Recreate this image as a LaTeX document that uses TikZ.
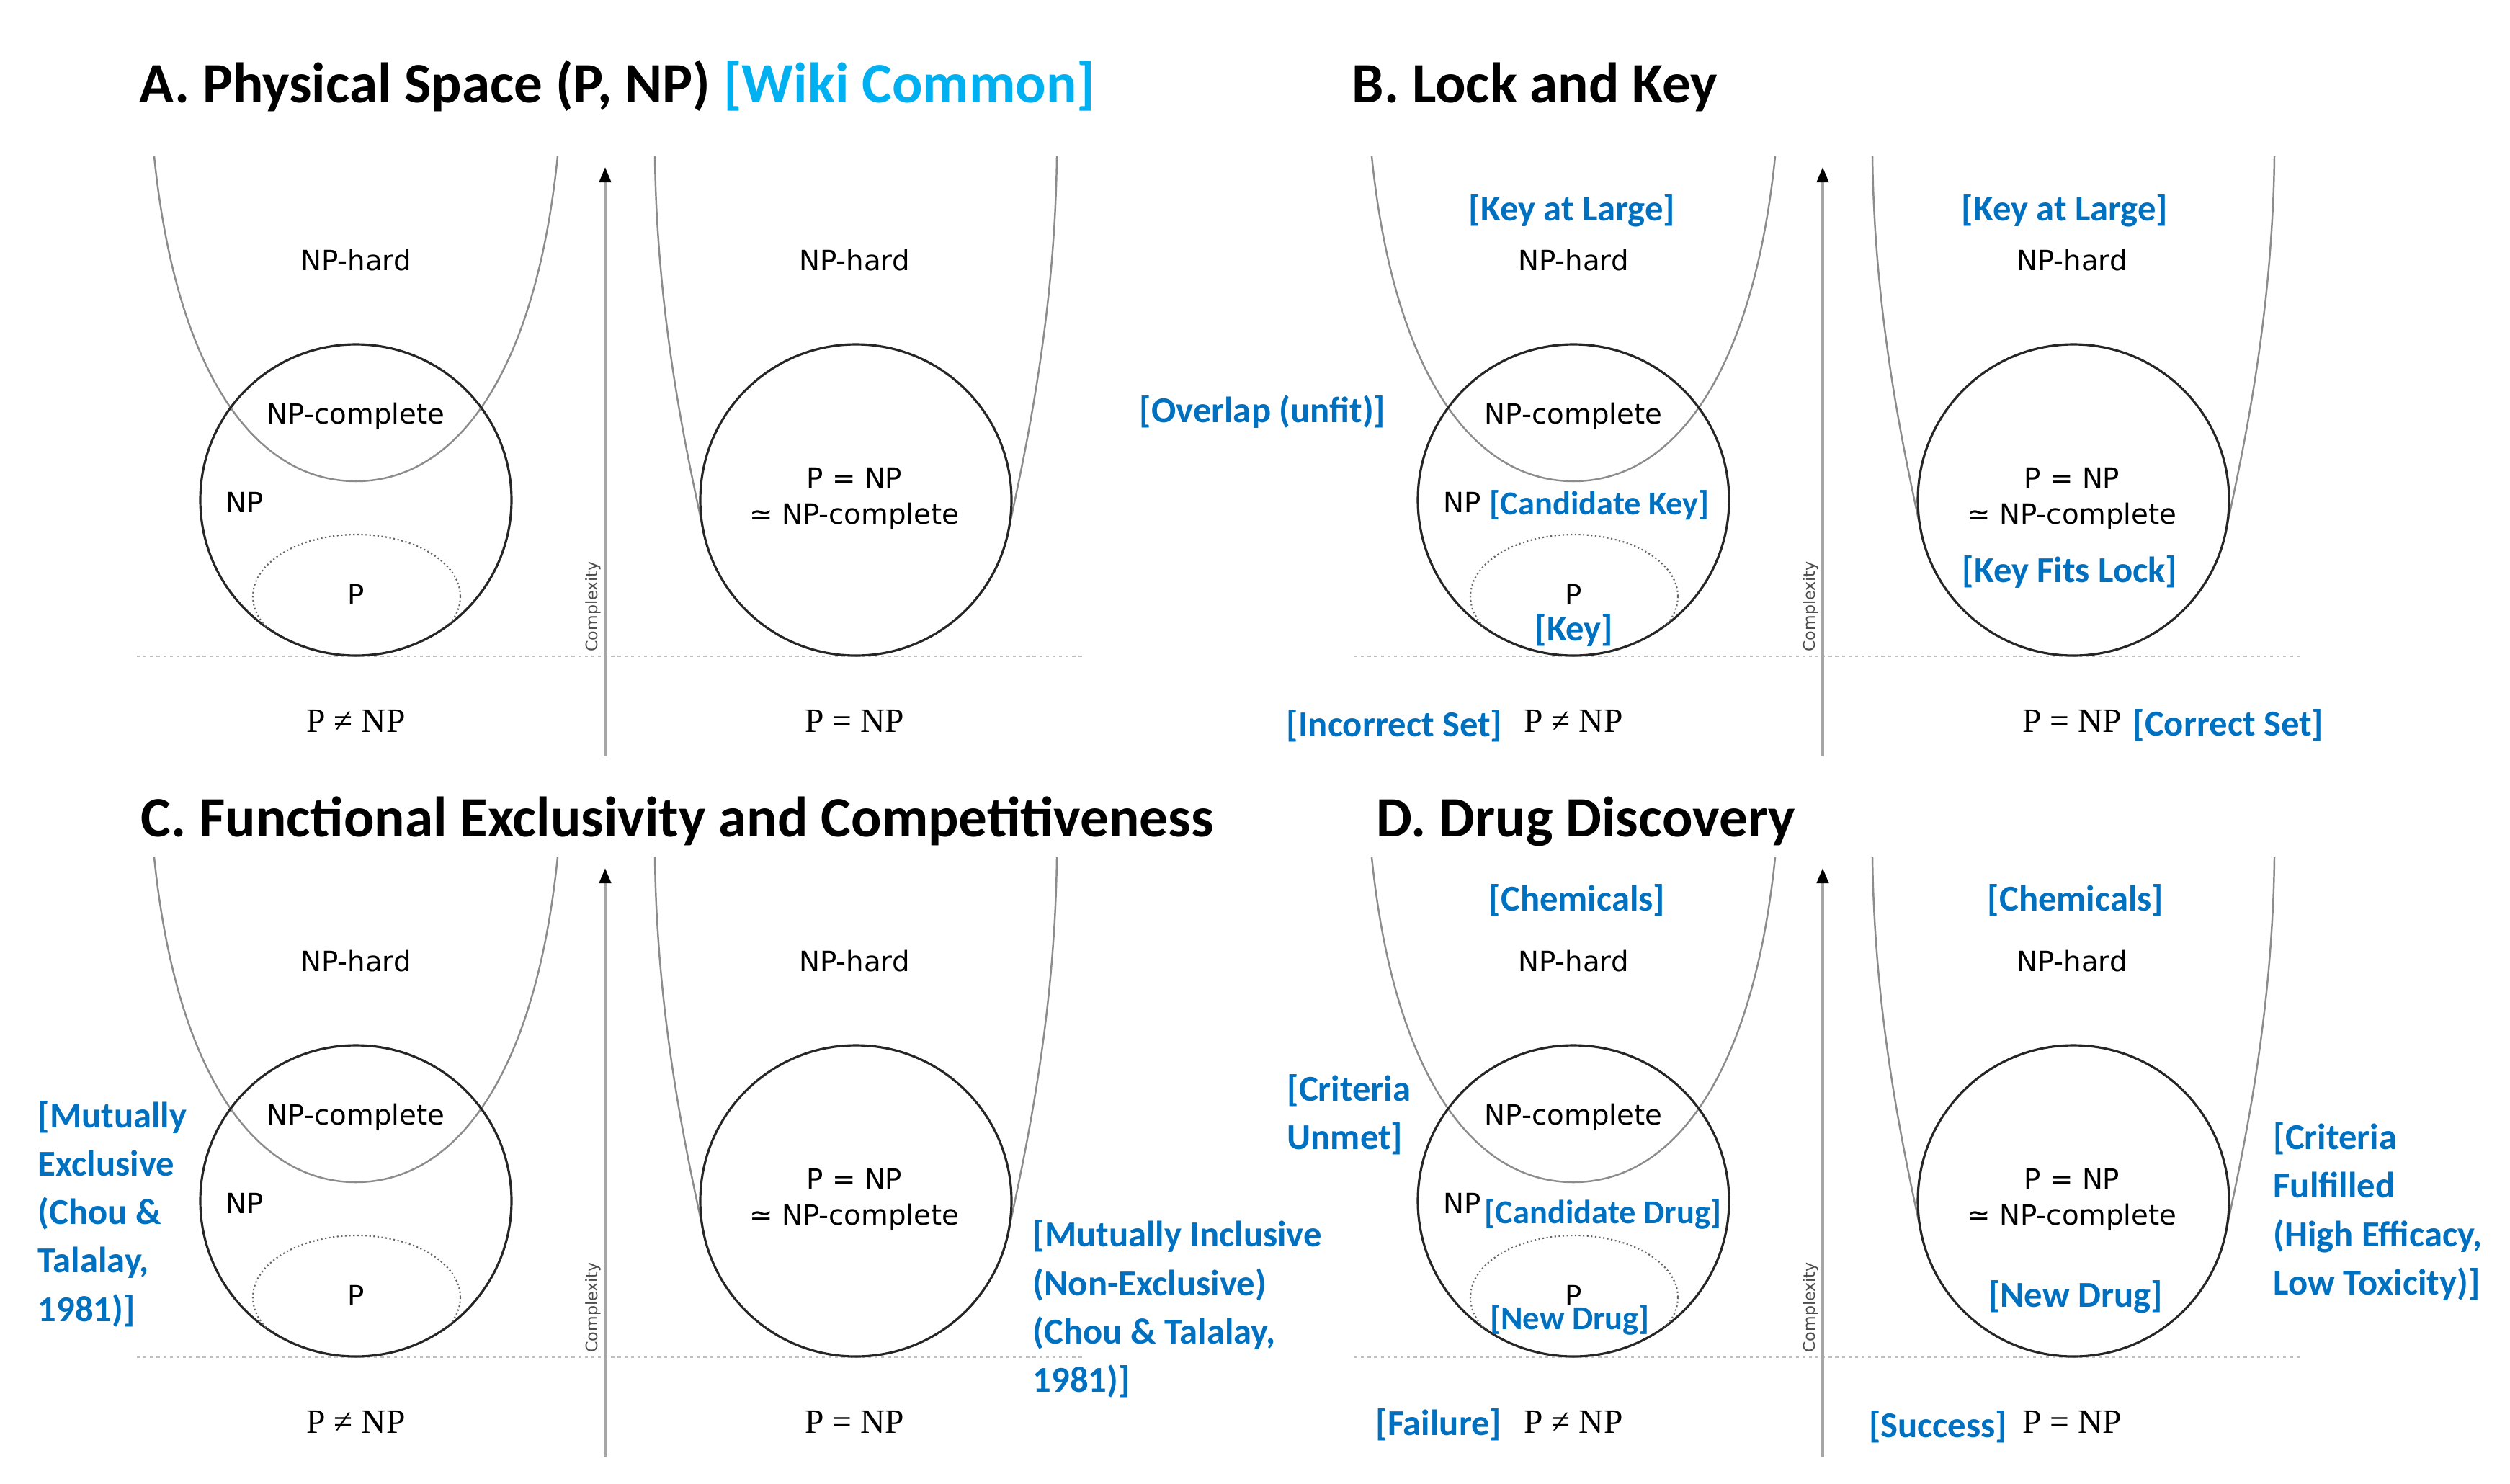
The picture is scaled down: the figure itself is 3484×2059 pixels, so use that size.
\documentclass[tikz,border=0pt]{standalone}
\usepackage{fontspec}
\setmainfont{Liberation Serif}
\setsansfont{DejaVu Sans}
\newfontfamily\calibri{Carlito}
\usetikzlibrary{arrows.meta}
\definecolor{annot}{HTML}{0070C0}
\definecolor{wiki}{HTML}{00B0F0}
\begin{document}
\begin{tikzpicture}[x=0.01cm, y=-0.01cm,
    lbl/.style={inner sep=0pt, align=center, font=\sffamily\fontsize{11}{14.2}\selectfont},
    eqn/.style={inner sep=0pt, font=\fontsize{13.5}{16}\selectfont},
    note/.style={inner sep=0pt, text=annot, align=left, font=\calibri\bfseries\fontsize{14.4}{19.1}\selectfont},
    small note/.style={note, font=\calibri\bfseries\fontsize{13.2}{16}\selectfont},
    ttl/.style={inner sep=0pt, anchor=base west, font=\calibri\bfseries\fontsize{22.5}{26}\selectfont},
    hard/.style={draw=black!45, line width=0.7pt},
    ring/.style={draw=black!85, line width=0.9pt}]
  \useasboundingbox (0,0) rectangle (3484,2059);
  % the same P/NP picture four times
  \foreach \dx/\dy/\k in {0/0/a, 1690/0/b, 0/973/c, 1690/973/d}{
    \begin{scope}[shift={(\dx,\dy)}]
      \draw[gray!50, line width=0.5pt, dash pattern=on 1.2pt off 1.4pt] (190,911) -- (1503,911);
      \draw[black!35, line width=1.1pt, -{Triangle[length=6pt, width=4.6pt, color=black]}] (840,1050) -- (840,232);
      \node[lbl, rotate=90, text=black!70, font=\sffamily\fontsize{6.3}{7}\selectfont] (cx-\k) at (823,842) {Complexity};
      % P != NP
      \draw[hard] (214,217) .. controls (245,520) and (355,668) .. (494,668)
                  .. controls (633,668) and (743,520) .. (774,217);
      \draw[ring] (494,694) circle [radius=216];
      \begin{scope}
        \clip (494,694) circle [radius=216];
        \draw[black!60, line width=0.6pt, densely dotted] (495,828) ellipse [x radius=144, y radius=86];
      \end{scope}
      \node[lbl] (hardl-\k) at (494,361) {NP-hard};
      \node[lbl] (npc-\k) at (494,578) {NP-complete};
      \node[lbl] (np-\k) at (340,697) {NP};
      \node[lbl] (p-\k) at (494,825) {P};
      \node[eqn] (neq-\k) at (494,1001) {P ≠ NP};
      % P = NP
      \draw[hard] (909,217) .. controls (912,450) and (956,640) .. (977,740);
      \draw[hard] (1467,217) .. controls (1464,450) and (1420,640) .. (1399,740);
      \draw[ring] (1188,694) circle [radius=216];
      \node[lbl] (hardr-\k) at (1186,361) {NP-hard};
      \node[lbl] (same-\k) at (1186,692) {P = NP\\≃ NP-complete};
      \node[eqn] (eq-\k) at (1186,1001) {P = NP};
    \end{scope}
  }
  % titles
  \node[ttl] (ttl-a) at (193,142) {A. Physical Space (P, NP) \textcolor{wiki}{[Wiki Common]}};
  \node[ttl] (ttl-b) at (1876,142) {B. Lock and Key};
  \node[ttl] (ttl-c) at (195,1161) {C. Functional Exclusivity and Competitiveness};
  \node[ttl] (ttl-d) at (1910,1161) {D. Drug Discovery};
  % B
  \node[note] (large-l) at (2182,292) {[Key at Large]};
  \node[note, anchor=east] (overlap) at (1924,572) {[Overlap (unfit)]};
  \node[small note, anchor=west] (candkey) at (2067,701) {[Candidate Key]};
  \node[note] (key) at (2185,875) {[Key]};
  \node[note, anchor=east] (incorrect) at (2086,1008) {[Incorrect Set]};
  \node[note] (large-r) at (2866,292) {[Key at Large]};
  \node[note] (fits) at (2873,794) {[Key Fits Lock]};
  \node[note, anchor=west] (correct) at (2960,1007) {[Correct Set]};
  % C
  \node[note, anchor=west] (excl) at (52,1685) {[Mutually\\Exclusive\\(Chou \&\\Talalay,\\1981)]};
  \node[note, anchor=west] (incl) at (1433,1817) {[Mutually Inclusive\\(Non-Exclusive)\\(Chou \& Talalay,\\1981)]};
  % D
  \node[note] (chem-l) at (2189,1250) {[Chemicals]};
  \node[note, anchor=west] (unmet) at (1786,1547) {[Criteria\\Unmet]};
  \node[small note, anchor=west] (canddrug) at (2060,1685) {[Candidate Drug]};
  \node[small note] (newdrug-l) at (2179,1832) {[New Drug]};
  \node[note, anchor=east] (failure) at (2085,1978) {[Failure]};
  \node[note] (chem-r) at (2881,1250) {[Chemicals]};
  \node[note] (newdrug-r) at (2881,1800) {[New Drug]};
  \node[note, anchor=west] (fulfilled) at (3155,1682) {[Criteria\\Fulfilled\\(High Efficacy,\\Low Toxicity)]};
  \node[note, anchor=east] (success) at (2787,1981) {[Success]};
\end{tikzpicture}
\end{document}
